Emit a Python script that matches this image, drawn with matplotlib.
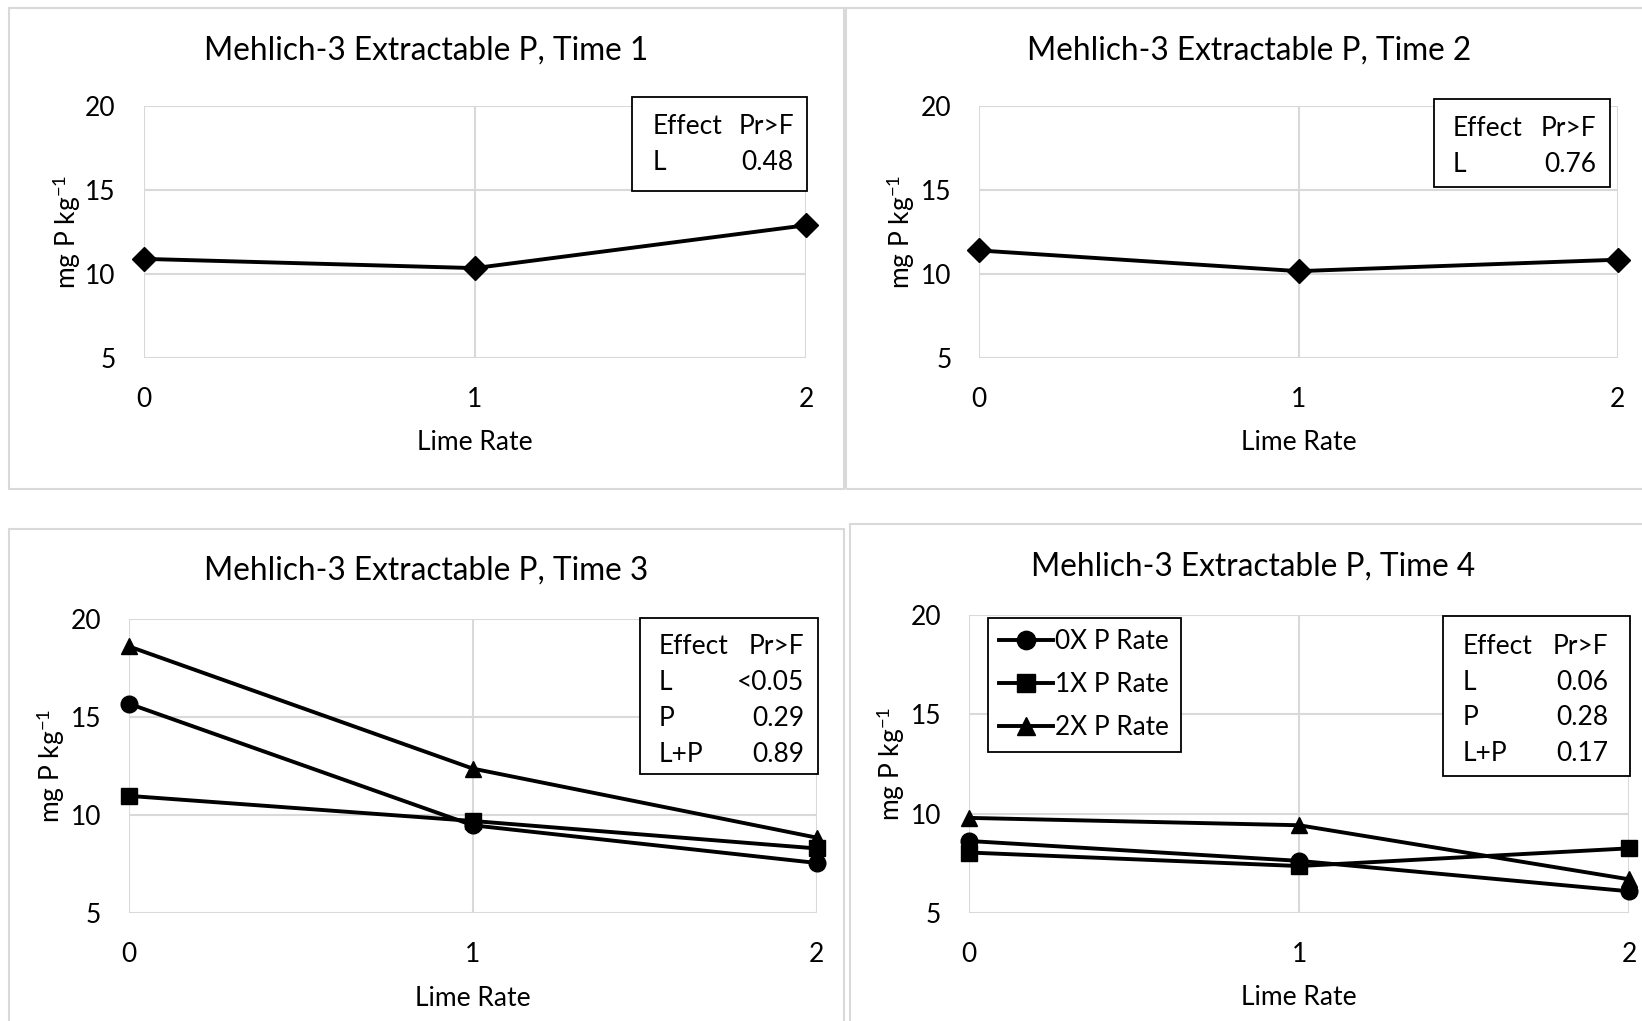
import matplotlib
matplotlib.use("Agg")
import matplotlib.pyplot as plt
from matplotlib.patches import Rectangle

plt.rcParams['font.family'] = ['Lato', 'DejaVu Sans']
plt.rcParams['mathtext.fontset'] = 'custom'
plt.rcParams['mathtext.rm'] = 'Lato'
plt.rcParams['mathtext.it'] = 'Lato:italic'

lime_rate = [0, 1, 2]
y_ticks = [5, 10, 15, 20]

# Time 1 and Time 2: single series
time1 = [10.9, 10.35, 12.9]
time2 = [11.4, 10.17, 10.85]

# Time 3 and Time 4: by P rate
p_labels = ['0X P Rate', '1X P Rate', '2X P Rate']
p_markers = ['o', 's', '^']
time3 = [[15.68, 9.48, 7.56],
         [10.98, 9.70, 8.30],
         [18.60, 12.37, 8.85]]
time4 = [[8.63, 7.63, 6.10],
         [8.05, 7.37, 8.26],
         [9.79, 9.42, 6.70]]

titles = ['Mehlich-3 Extractable P, Time 1', 'Mehlich-3 Extractable P, Time 2',
          'Mehlich-3 Extractable P, Time 3', 'Mehlich-3 Extractable P, Time 4']

eff1 = [['Effect', 'Pr>F'], ['L', '0.48']]
eff2 = [['Effect', 'Pr>F'], ['L', '0.76']]
eff3 = [['Effect', 'Pr>F'], ['L', '<0.05'], ['P', '0.29'], ['L+P', '0.89']]
eff4 = [['Effect', 'Pr>F'], ['L', '0.06'], ['P', '0.28'], ['L+P', '0.17']]

W, H = 1642, 1021
fig = plt.figure(figsize=(W / 100, H / 100), dpi=100)
GRID = '#d9d9d9'
FS = 19


def fx(x):
    return x / W


def fy(y):
    return 1 - y / H


def px_axes(l, r, t, b):
    return fig.add_axes([fx(l), fy(b), (r - l) / W, (b - t) / H])


# chart area borders
for (l, t, r, b) in [(8.5, 8.5, 844, 489), (846, 8.5, 1700, 489),
                     (8.5, 529, 844, 1100), (850, 524, 1700, 1100)]:
    fig.patches.append(Rectangle((fx(l), fy(b)), (r - l) / W, (b - t) / H,
                                 transform=fig.transFigure, fill=False,
                                 edgecolor=GRID, lw=1.5, clip_on=False))

ax1 = px_axes(143.5, 806.3, 105.8, 358.1)
ax2 = px_axes(979.1, 1617.9, 105.8, 358.1)
ax3 = px_axes(128.8, 816.8, 618.9, 913.2)
ax4 = px_axes(968.7, 1629.4, 614.7, 913.2)
axes = [ax1, ax2, ax3, ax4]

ax1.plot(lime_rate, time1, color='black', lw=2.8, marker='D', ms=12, clip_on=False, zorder=5)
ax2.plot(lime_rate, time2, color='black', lw=2.8, marker='D', ms=12, clip_on=False, zorder=5)
for vals, lab, m in zip(time3, p_labels, p_markers):
    ax3.plot(lime_rate, vals, color='black', lw=2.8, marker=m, ms=12, label=lab,
             clip_on=False, zorder=5)
for vals, lab, m in zip(time4, p_labels, p_markers):
    ax4.plot(lime_rate, vals, color='black', lw=2.8, marker=m, ms=12, label=lab,
             clip_on=False, zorder=5)

xlab_pos = [-0.285, -0.285, -0.248, -0.240]
ylab_pos = [-0.091, -0.097, -0.090, -0.0935]
for ax, xp, yp in zip(axes, xlab_pos, ylab_pos):
    ax.set_xlim(0, 2)
    ax.set_ylim(5, 20)
    ax.set_xticks(lime_rate)
    ax.set_yticks(y_ticks)
    ax.grid(True, color=GRID, lw=1.5)
    ax.set_axisbelow(True)
    for s in ax.spines.values():
        s.set_visible(False)
    ax.tick_params(length=0, labelsize=FS, colors='black')
    ax.tick_params(axis='x', pad=20.5)
    ax.tick_params(axis='y', pad=20)
    ax.set_xlabel('Lime Rate', fontsize=FS)
    ax.set_ylabel('mg P kg$^{-1}$', fontsize=19)
    ax.xaxis.set_label_coords(0.5, xp)
    ax.yaxis.set_label_coords(yp, 0.5)

# titles
for (cx, cy), t in zip([(426, 50.3), (1249, 50.3), (426, 570.7), (1253.5, 566.5)], titles):
    fig.text(fx(cx), fy(cy), t, fontsize=22.8, ha='center', va='center')

# effect tables
tables = [
    (eff1, (631.5, 97.4, 807.4, 190.6), 652.4, 793.8, [126.5, 163]),
    (eff2, (1433.6, 99.5, 1609.6, 187.4), 1452.5, 1596, [128.5, 165]),
    (eff3, (639.8, 617.8, 817.9, 773.9), 658.7, 804.3, [646.5, 683, 718.5, 754]),
    (eff4, (1443, 615.8, 1629.5, 776), 1463, 1608.5, [646.5, 682, 717.5, 753]),
]
for rows, (l, t, r, b), xl, xr, ys in tables:
    fig.patches.append(Rectangle((fx(l), fy(b)), (r - l) / W, (b - t) / H,
                                 transform=fig.transFigure, facecolor='white',
                                 edgecolor='black', lw=1.3, zorder=10))
    for (a, v), yy in zip(rows, ys):
        fig.text(fx(xl), fy(yy), a, fontsize=FS, ha='left', va='center', zorder=11)
        fig.text(fx(xr), fy(yy), v, fontsize=FS, ha='right', va='center', zorder=11)

leg = ax4.legend(loc='upper left', bbox_to_anchor=(0.0285, 0.99), fontsize=18.8,
                 frameon=True, fancybox=False, framealpha=1, edgecolor='black',
                 handlelength=2.05, handletextpad=0.1, borderpad=0.45,
                 labelspacing=0.68, borderaxespad=0, markerscale=1.1)
leg.get_frame().set_linewidth(1.3)

fig.savefig('out.png', dpi=100)
